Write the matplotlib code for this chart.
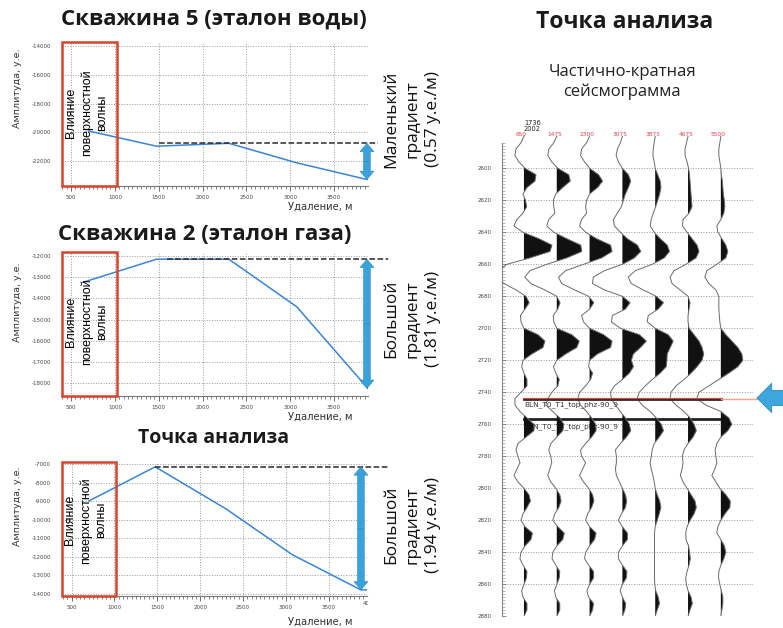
import numpy as np
import matplotlib
matplotlib.use("Agg")
import matplotlib.pyplot as plt
from matplotlib.patches import Rectangle, FancyArrowPatch, Polygon
from matplotlib.ticker import MultipleLocator, FixedLocator
from matplotlib.transforms import Bbox, blended_transform_factory

plt.rcParams['axes.unicode_minus'] = False
plt.rcParams['font.family'] = ['DejaVu Sans']

W, H = 783, 628

# ---------------- data: amplitude vs offset ----------------
off_w5 = [700, 1475, 2300, 3075, 3875]
amp_w5 = [-19900, -20950, -20750, -22100, -23250]
ref_w5 = -20750

off_w2 = [630, 1475, 2300, 3075, 3885]
amp_w2 = [-13250, -12150, -12150, -14400, -18250]
ref_w2 = -12150

off_pt = [700, 1475, 2300, 3075, 3875, 3950]
amp_pt = [-9000, -7150, -9420, -11900, -13800, -13800]
ref_pt = -7150

grad_w5 = "Маленький\nградиент\n(0.57 у.е./м)"
grad_w2 = "Большой\nградиент\n(1.81 у.е./м)"
grad_pt = "Большой\nградиент\n(1.94 у.е./м)"

# ---------------- data: partial-stack seismogram ----------------
trace_offsets = [650, 1475, 2300, 3075, 3875, 4675, 5500]
header_ids = ["1736", "2002"]
times = np.arange(2580, 2881, 4)  # sample times, ms (4 ms sampling)

tr_650 = [0, -3, -8, -9, -5, 1, 12, 11, 3, -1, 1.5, 2.7, -1, -7, -10, -1,
          15, 28, 26, 6, -17, -26, -28, -20, -8, 2, 5.3, 1, -3.5, -3, 0, 14,
          21, 19, 8, -1, -2.3, 0, 3, 3, -3, -9, -9, -4, 3, 10, 10, 2, -6, -8,
          -6, -4, -7, -10, -6, 0, 5, 6.5, 3, -1, -3, 1, 8.5, 7, 1, -3, -4, -1,
          3, 2.5, 0, -2.3, -1, 3, 3, 0]
tr_1475 = [0, -3, -8, -9, -5, 1, 12, 13.5, 6, -1, -3.5, -3, -2, -8, -10, -3,
           10, 24, 25, 10, -10, -27, -32, -26, -12, 0, 3.3, 1, -3.5, -3, 0, 15,
           22.5, 20, 9, 0, -3.3, -1, 2.5, 1, -5, -9, -11, -4, 3, 7, 6, 0, -6, -8,
           -6, -5, -7, -9, -6, -1, 3, 4.3, 2, -2, -4, 1, 7.5, 6, 0, -4, -4.7, -1,
           3, 2.5, 0, -2.3, -1, 3, 3, 0]
tr_2300 = [0, -3, -8, -9, -5, 0, 9, 13, 8, 0, -3, -4, -3, -8, -10, -4,
           7, 21, 22.5, 12, -6, -24, -31, -28, -15, -1, 4.3, 0, -8, -6, 0, 14,
           22.5, 21, 8, 0, -1, 3, 1, -4, -10, -11.7, -9, -3, 2, 6, 6.5, 2, -4, -9,
           -8, -4, -7, -10, -6, -1, 3, 4.3, 2, -2, -4, 0, 6.5, 5, 0, -4, -5, -1,
           4, 4, 0, -2.7, -1, 4, 3, 0]
tr_3075 = [0, -2, -5, -6.3, -4, 0, 6, 8.3, 6, 3, 1, -1, -5, -9, -8, -2,
           5, 15, 18.4, 12, 0, -18, -29, -30, -18, 0, 7.7, 3, -10, -11, -2, 17,
           24, 18, 11, 9, 11, 7, 0, -8, -12, -11, -7, -2, 3, 7, 8.3, 4, -2, -7,
           -6, -6, -7, -6, -3, 0, 3, 4.3, 3, -1, -4, 0, 5, 5, 0, -4, -4, 0,
           4.5, 4, 0, -2.3, 0, 3.3, 2.5, 0]
tr_3875 = [0, -1, -2, -2.3, -1, 0, 2.5, 5, 5.7, 4.5, 2.5, 0.5, -2, -4, -5, -1,
           5, 12, 14.3, 9, -3, -20, -27, -24, -12, 1, 8.3, 3, -7, -8, 0, 13,
           18, 15, 12, 11.7, 11, 5, -3, -10, -16, -18, -13, -5, 1, 6, 8.3, 4, -1, -3,
           -4, -5, -4, -2.3, -1, 0, 2, 4.5, 5.7, 4, 2, 0, -0.7, -0.7, -0.7, -0.7, -0.7, -0.7,
           -0.7, -0.7, -0.5, 0.5, 3, 4.3, 2, 0]
tr_4675 = [0, -1.5, -3, -3, -1, 0.5, 1.5, 2, 2.5, 3, 3.5, 4, 1, -5, -5.5, -1,
           4, 9, 11, 8, -2, -14, -18, -16, -8, 0, 2, 1, 0, 0, 1, 6,
           11, 14, 15.7, 14, 9, 3, -4, -12, -17, -18, -12, -4, 2, 6, 8.3, 5, 0, -4,
           -5.7, -5, -6, -7.7, -5, -1, 3, 7, 8.3, 6, 2, -1, -2.3, -2, 0.5, 1.5, 2.3, 1,
           -1, -2.3, -1.7, 0, 3, 4.3, 2, 0]
tr_5500 = [0, -1, -2, -2, -1, 0, 0.5, 1.5, 2, 2.5, 3.5, 4, 3, 0, -4, -3,
           1, 5, 7, 5, -4, -14, -16, -12, -5, -2, -2, -2, -1.5, -1, 0, 5,
           11, 17, 21, 22, 17, 8, -2, -12, -22, -24, -15, 0, 8, 11, 7, 0, -4, -5.7,
           -5, -4, -6, -9, -5, -1, 5, 9.5, 9, 4, 0, -3, -4, 0, 3.5, 5, 3, 0,
           -2, -2.3, -1, 0.5, 2, 2, 1, 0]
traces = [tr_650, tr_1475, tr_2300, tr_3075, tr_3875, tr_4675, tr_5500]

horizon_names = ["BLN_T0_T1_top_phz-90_9", "BLN_T0_T1_top_phz-90_9"]
horizon_times = [2744, 2757]

# ---------------- figure ----------------
fig = plt.figure(figsize=(W / 100, H / 100), dpi=100)


def fx(px):
    return px / W


def fy(py):
    return 1 - py / H


def add_axes_px(l, t, r, b):
    return fig.add_axes([fx(l), fy(b), (r - l) / W, (b - t) / H])


BLUE = "#3a84d4"
ARROW = "#3aa2da"
RED = "#d8432b"
TICKC = "#555555"


def amp_panel(box, xlim, ylim, yticks, offs, amps, ref, ref_x0, ref_x1,
              arrow_x, grad_text, grad_cy, title, title_x, title_y, title_size,
              infl_x, infl_dy, ylabel_top, xlabel_y, extra_tick=None):
    l, t, r, b = box
    ax = add_axes_px(l, t, r, b)
    ax.set_xlim(*xlim)
    ax.set_ylim(*ylim)
    ax.set_xticks([500, 1000, 1500, 2000, 2500, 3000, 3500])
    ax.xaxis.set_minor_locator(MultipleLocator(50))
    ax.set_yticks(yticks)
    ax.tick_params(axis='both', which='major', labelsize=4, colors=TICKC,
                   labelcolor='#444444')
    ax.tick_params(axis='x', which='major', length=3.5, width=0.6, pad=3)
    ax.tick_params(axis='x', which='minor', length=2.5, width=0.5, colors=TICKC)
    ax.tick_params(axis='y', which='major', length=0, pad=8)
    for s in ['top', 'right', 'left']:
        ax.spines[s].set_visible(False)
    ax.spines['bottom'].set_color('#777777')
    ax.spines['bottom'].set_linewidth(0.8)
    ax.grid(True, which='major', ls=':', color='#9a9a9a', lw=0.7)
    ax.set_axisbelow(True)
    ax.plot(offs, amps, color=BLUE, lw=1.1, zorder=3)
    ax.plot([ref_x0, ref_x1], [ref, ref], ls='--', color='#2a2a2a', lw=1.1,
            clip_on=False, zorder=4)
    # influence box
    ax.add_patch(Rectangle((xlim[0], ylim[0]), 1020 - xlim[0], ylim[1] - ylim[0],
                           fill=False, edgecolor=RED, lw=1.8, clip_on=False, zorder=6))
    yc = (ylim[0] + ylim[1]) / 2 + infl_dy * (ylim[1] - ylim[0])
    ax.text(infl_x, yc, "Влияние\nповерхностной\nволны",
            rotation=90, ha='center', va='center', multialignment='center',
            fontsize=9, family=['Liberation Sans', 'DejaVu Sans'], linespacing=1.35,
            zorder=7)
    # gradient arrow from ref level down to last value
    lo = amps[-1]
    mid = (ref + lo) / 2
    for end in (ref, lo):
        ar = FancyArrowPatch((arrow_x, mid), (arrow_x, end),
                             arrowstyle='simple,head_length=6,head_width=10,tail_width=4.8',
                             mutation_scale=1, color=ARROW, ec='#2b86bd', lw=0.4,
                             shrinkA=0, shrinkB=0, clip_on=False, zorder=5)
        ax.add_patch(ar)
    fig.text(fx(412), fy(grad_cy), grad_text, rotation=90, ha='center', va='center',
             multialignment='center', fontsize=12.5,
             family=['Open Sans', 'DejaVu Sans'], linespacing=1.42, color='#111111')
    fig.text(fx(title_x), fy(title_y), title, ha='center', va='center',
             fontsize=title_size, fontweight='bold', family=['Open Sans', 'DejaVu Sans'],
             color='#1a1a1a')
    fig.text(fx(18), fy(ylabel_top), "Амплитуда, у.е.", rotation=90, ha='center',
             va='top', fontsize=6.8, color='#333333')
    fig.text(fx(320), fy(xlabel_y), "Удаление, м", ha='center', va='center',
             fontsize=7.2, color='#333333')
    if extra_tick is not None:
        # tick label just past the right edge, cut off as in the source screenshot
        tr = blended_transform_factory(ax.transData, ax.transAxes)
        txt = ax.text(xlim[1] + 27, -0.035, str(extra_tick), transform=tr,
                      ha='center', va='top', fontsize=4, color='#444444')
        fig.canvas.draw()
        bb = ax.get_window_extent()
        txt.set_clip_box(Bbox([[0, 0], [bb.x1 + 0.5, bb.y1]]))
        txt.set_clip_on(True)
    return ax


amp_panel((62, 42, 368, 186), (397, 3887), (-23700, -13750),
          [-14000, -16000, -18000, -20000, -22000], off_w5, amp_w5, ref_w5,
          1500, 4000, 3875, grad_w5, 119, "Скважина 5 (эталон воды)", 214, 19, 16,
          680, 0.01, 48, 207)
amp_panel((62, 252, 368, 396), (397, 3887), (-18610, -11810),
          [-12000, -13000, -14000, -15000, -16000, -17000, -18000], off_w2, amp_w2,
          ref_w2, 1600, 4115, 3875, grad_w2, 319, "Скважина 2 (эталон газа)", 205, 234, 16,
          680, 0.015, 262, 417)
amp_panel((62, 462, 367, 596), (388, 3946), (-14130, -6890),
          [-7000, -8000, -9000, -10000, -11000, -12000, -13000, -14000], off_pt, amp_pt,
          ref_pt, 1475, 4190, 3875, grad_pt, 525, "Точка анализа", 214, 438, 14,
          667, 0.065, 466, 622, extra_tick=4000)

# ---------------- seismogram ----------------
axs = add_axes_px(502.3, 136.3, 753, 616.3)
axs.set_ylim(2880, 2580)
axs.set_xlim(0.34, 7.98)
axs.set_xticks([])
axs.set_yticks(np.arange(2600, 2881, 20))
axs.yaxis.set_minor_locator(FixedLocator(np.arange(2584, 2881, 2)))
axs.tick_params(axis='y', which='major', labelsize=4, direction='in', length=3,
                width=0.6, colors='#777777', labelcolor='#444444', pad=8)
axs.tick_params(axis='y', which='minor', direction='in', length=2, width=0.4,
                colors='#888888')
for s in ['top', 'right', 'bottom']:
    axs.spines[s].set_visible(False)
axs.spines['left'].set_color('#888888')
axs.spines['left'].set_linewidth(0.8)
axs.spines['left'].set_bounds(2584, 2880)
axs.yaxis.grid(True, which='major', ls=':', color='#9a9a9a', lw=0.7)
axs.set_axisbelow(True)

gain = 1 / 32.8
t = np.asarray(times, dtype=float)

# horizon labels (second one lies under the trace fills)
axs.text(1.0, horizon_times[0] + 3.5, horizon_names[0], fontsize=5.3, color='#333333',
         ha='left', va='center', zorder=6)
axs.text(1.0, horizon_times[1] + 4.2, horizon_names[1], fontsize=5.3, color='#333333',
         ha='left', va='center', zorder=1.5)
axs.plot([1, 7], [horizon_times[1], horizon_times[1]], color='#222222', lw=2.0, zorder=2)

for i, tr in enumerate(traces):
    x0 = i + 1
    a = np.asarray(tr, dtype=float) * gain
    axs.fill_betweenx(t, x0, x0 + a, where=a > 0, interpolate=True,
                      color='#111111', lw=0, zorder=3)
    axs.plot(x0 + a, t, color='#6a6a6a', lw=0.7, zorder=4)
    axs.text(x0 - 0.07, 1.003, str(trace_offsets[i]),
             transform=blended_transform_factory(axs.transData, axs.transAxes),
             ha='center', va='center', fontsize=4.2, color='#e8414a', clip_on=False)

axs.text(1.25, 1.021, "\n".join(header_ids),
         transform=blended_transform_factory(axs.transData, axs.transAxes),
         ha='center', va='center', fontsize=4.8, color='#222222', linespacing=1.0,
         clip_on=False)

# first horizon: dark line with red top, thin pink continuation
axs.plot([1, 7], [horizon_times[0], horizon_times[0]], color='#2a2a2a', lw=2.0, zorder=5)
axs.plot([1, 7], [horizon_times[0] - 0.4, horizon_times[0] - 0.4], color='#d9483a',
         lw=0.9, zorder=5)
axs.plot([7, 8.1], [horizon_times[0], horizon_times[0]], color='#f5a08c', lw=1.0,
         zorder=5, clip_on=False)

# big pointer arrow at the right edge
arrow_pts = [(757, 398), (771.7, 383.3), (771.7, 390.5), (790, 390.5), (790, 405.5),
             (771.7, 405.5), (771.7, 412.7)]
fig.patches.append(Polygon([(fx(x), fy(y)) for x, y in arrow_pts], closed=True,
                           transform=fig.transFigure, facecolor='#3da6dc',
                           edgecolor='#2f86be', lw=0.6))

fig.text(fx(625), fy(22), "Точка анализа", ha='center', va='center', fontsize=16.5,
         fontweight='bold', family=['Open Sans', 'DejaVu Sans'], color='#1a1a1a')
fig.text(fx(622), fy(82), "Частично-кратная\nсейсмограмма", ha='center', va='center',
         fontsize=12, family=['Open Sans', 'DejaVu Sans'], color='#222222',
         linespacing=1.35)

fig.savefig("out.png", dpi=100)
